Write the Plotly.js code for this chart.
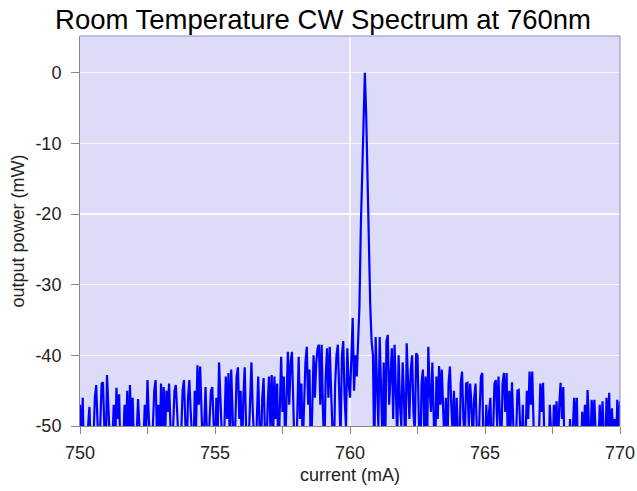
<!DOCTYPE html>
<html>
<head>
<meta charset="utf-8">
<script src="https://cdn.plot.ly/plotly-3.0.1.min.js"></script>
<style>html,body{margin:0;padding:0;background:#fff;}#chart{width:637px;height:491px;}</style>
</head>
<body>
<div id="chart"></div>
<script>
// Spectrum sampled every 0.05 mA starting at 750 mA
const xStart = 750;
const xStep = 0.05;
const power = [
  // 750-751
  -47,-53,-46,-55,-52,-56,-50,-47.3,-54,-56,-52,-46,-44.2,-51,-55,-50,-44,-43.8,-52,-56,
  // 751-752
  -42.8,-48,-55,-56,-52,-47,-54,-44.6,-49,-45.5,-55,-56,-53,-47,-51,-45,-54,-44.2,-50,-46,
  // 752-753
  -53,-56,-51,-46.2,-50,-55,-56,-52,-47,-51,-43.5,-49,-53,-56,-50,-45,-43.5,-51,-47,-54,
  // 753-754
  -44,-50,-44.5,-52,-45,-48,-44,-53,-56,-50,-45,-44.2,-49,-53,-56,-51,-45,-43.5,-50,-55,
  // 754-755
  -46,-43.5,-48,-52,-55,-45,-50,-41.4,-47,-41.6,-49,-54,-50,-44.5,-51,-56,-49,-45,-44.5,-52,
  // 755-756
  -55,-46,-51,-41,-47,-53,-56,-50,-43,-49,-42.5,-53,-42,-48,-56,-50,-43,-41.7,-49,-45,
  // 756-757
  -55,-46,-41.7,-50,-56,-52,-45,-41,-48,-53,-56,-49,-43,-50,-54,-46,-43.2,-51,-55,-47,
  // 757-758
  -43,-50,-42.8,-52,-43,-49,-44,-55,-47,-40.2,-48,-43,-53,-45,-39.5,-47,-41,-39.5,-50,-54,
  // 758-759
  -56,-46,-40.2,-49,-44,-53,-45,-41,-38.8,-47,-42,-55,-48,-40,-46,-41,-39,-38.5,-47,-38.5,
  // 759-760
  -48,-54,-43,-39,-46,-38.8,-45,-51,-56,-44,-40,-38.5,-48,-52,-40,-38,-46,-50,-39,-44,
  // 760-761 (lasing peak)
  -46,-40,-34.7,-45,-40,-43,-38,-33,-22,-13,-4,0,-6,-17,-26,-33,-38,-40,-55,-37.4,
  // 761-762
  -44,-50,-37.4,-46,-52,-41,-55,-38,-37.1,-47,-43,-39,-49,-38.5,-45,-52,-40,-47,-50,-41,
  // 762-763
  -46,-55,-38.3,-44,-49,-42,-40,-48,-51,-39.7,-40,-49,-56,-44,-42,-51,-43,-56,-38.8,-45,
  // 763-764
  -48,-41,-50,-56,-43,-49,-41.5,-47,-42,-51,-53,-46,-56,-44,-41.6,-47,-51,-45,-56,-46,
  // 764-765
  -50,-56,-44,-42.3,-49,-52,-44,-43.9,-50,-44,-47,-53,-46,-44,-51,-55,-48,-43,-42.5,-56,
  // 765-766
  -53,-47,-54,-48,-46,-55,-51,-44,-43.5,-50,-43,-47,-54,-44,-42.5,-48,-42.5,-54,-45,-50,
  // 766-767
  -43.8,-50,-56,-52,-45,-44.9,-51,-55,-47,-55,-52,-45,-49,-42.3,-47,-42.3,-50,-56,-53,-55,
  // 767-768
  -51,-44,-48,-43.9,-52,-55,-53,-56,-47,-52,-55,-47,-50,-46.5,-54,-47,-43.9,-49,-44.5,-55,
  // 768-769
  -54,-56,-55,-49,-55,-51,-46,-50,-46,-55,-56,-55,-48,-53,-47,-52,-44.9,-50,-54,-46.3,
  // 769-770
  -50,-46.3,-55,-56,-53,-47,-55,-46.5,-51,-55,-46,-50,-45.3,-55,-47.5,-52,-49,-54,-46.3,-51,-46.5
];
const xTicks = [750, 755, 760, 765, 770];
const yTicks = [-50, -40, -30, -20, -10, 0];

const trace = {
  type: 'scatter',
  mode: 'lines',
  x0: xStart,
  dx: xStep,
  y: power,
  line: {color: '#0000ff', width: 2.2},
  hoverinfo: 'skip'
};

const tickFont = {family: 'Liberation Sans, Arial, sans-serif', size: 18, color: '#222'};
const titleFont = {family: 'Liberation Sans, Arial, sans-serif', size: 18, color: '#222'};

const layout = {
  width: 637,
  height: 491,
  margin: {l: 80, r: 17, t: 36, b: 65},
  paper_bgcolor: '#ffffff',
  plot_bgcolor: 'rgb(220,220,248)',
  showlegend: false,
  title: {
    text: 'Room Temperature CW Spectrum at 760nm',
    font: {family: 'Liberation Sans, Arial, sans-serif', size: 27.5, color: '#000'},
    xref: 'container', x: 323/637, xanchor: 'center',
    yref: 'container', y: 1 - 19/491, yanchor: 'middle'
  },
  xaxis: {
    range: [750, 770],
    tickmode: 'array',
    tickvals: xTicks,
    ticktext: xTicks.map(String),
    ticks: 'outside', ticklen: 7, tickcolor: '#888', tickwidth: 1,
    ticklabelstandoff: 3,
    minor: {dtick: 2.5, tick0: 750, ticks: 'outside', ticklen: 7, tickcolor: '#888', showgrid: false},
    showgrid: false,
    zeroline: false,
    showline: true, linecolor: '#888', linewidth: 1,
    tickfont: tickFont,
    title: {text: 'current (mA)', font: titleFont, standoff: 6}
  },
  yaxis: {
    range: [-50, 5.2],
    tickmode: 'array',
    tickvals: yTicks,
    ticktext: yTicks.map(String),
    ticks: 'outside', ticklen: 8, tickcolor: '#888', tickwidth: 1,
    ticklabelstandoff: 6,
    showgrid: true, gridcolor: 'rgba(255,255,255,0.85)', gridwidth: 1.5,
    zeroline: false,
    showline: true, linecolor: '#888', linewidth: 1,
    tickfont: tickFont,
    title: {text: 'output power (mW)', font: titleFont, standoff: 6}
  },
  shapes: [
    {type: 'line', xref: 'x', yref: 'paper', x0: 760, x1: 760, y0: 0, y1: 1,
     line: {color: 'rgba(255,255,255,0.9)', width: 1.5}, layer: 'below'},
    {type: 'line', xref: 'paper', yref: 'paper', x0: 0, x1: 1, y0: 1, y1: 1,
     line: {color: '#8c8cd0', width: 1}, layer: 'above'},
    {type: 'line', xref: 'paper', yref: 'paper', x0: 1, x1: 1, y0: 0, y1: 1,
     line: {color: '#8c8cd0', width: 1}, layer: 'above'}
  ]
};

Plotly.newPlot('chart', [trace], layout, {displayModeBar: false, staticPlot: true});
</script>
</body>
</html>
